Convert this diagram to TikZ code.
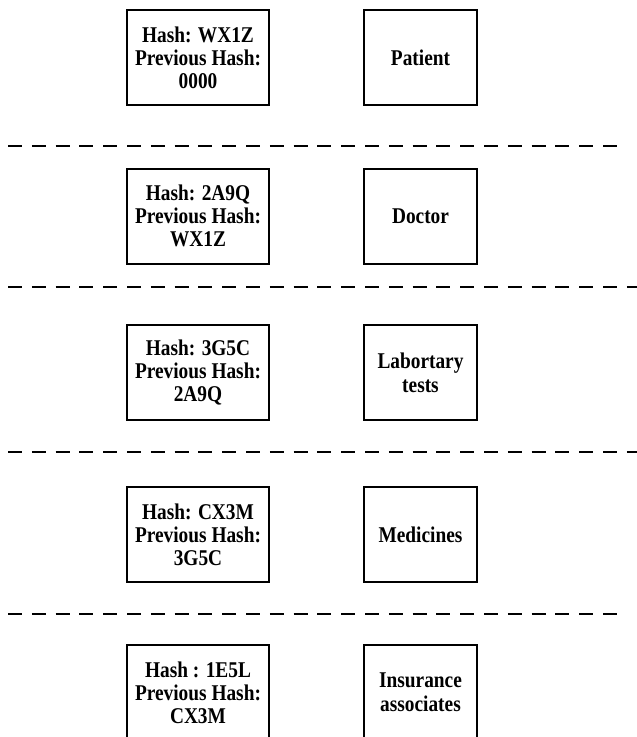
\documentclass[tikz,border=0pt]{standalone}
\usepackage{fontspec}
\setmainfont[FakeStretch=0.86]{Liberation Serif}
\begin{document}
\begin{tikzpicture}[x=1bp,y=-1bp,
  hashbox/.style={draw=black,line width=2bp,minimum width=142bp,minimum height=95bp,inner sep=0pt,align=center,font=\fontsize{22.5bp}{23bp}\selectfont\bfseries},
  rolebox/.style={draw=black,line width=2bp,minimum width=113bp,minimum height=95bp,inner sep=0pt,align=center,font=\fontsize{22.5bp}{24bp}\selectfont\bfseries},
  sep/.style={line width=2.8bp,dash pattern=on 14bp off 9.8bp}]
\useasboundingbox (0,0) rectangle (637,737);
\node[hashbox] (h1) at (198,57.5) {Hash: WX1Z\\Previous Hash:\\0000};
\node[rolebox] (r1) at (420.5,57.5) {Patient};
\node[hashbox] (h2) at (198,216) {Hash: 2A9Q\\Previous Hash:\\WX1Z};
\node[rolebox] (r2) at (420.5,216) {Doctor};
\node[hashbox] (h3) at (198,372.5) {Hash: 3G5C\\Previous Hash:\\2A9Q};
\node[rolebox] (r3) at (420.5,372.5) {Labortary\\tests};
\node[hashbox] (h4) at (198,534.5) {Hash: CX3M\\Previous Hash:\\3G5C};
\node[rolebox] (r4) at (420.5,534.5) {Medicines};
\node[hashbox] (h5) at (198,692.5) {Hash : 1E5L\\Previous Hash:\\CX3M};
\node[rolebox] (r5) at (420.5,692.5) {Insurance\\associates};
\coordinate (d1a) at (8,146); \coordinate (d1b) at (617,146);
\coordinate (d2a) at (8,287); \coordinate (d2b) at (637,287);
\coordinate (d3a) at (8,452); \coordinate (d3b) at (637,452);
\coordinate (d4a) at (8,614); \coordinate (d4b) at (617,614);
\draw[sep] (d1a) -- (d1b);
\draw[sep] (d2a) -- (d2b);
\draw[sep] (d3a) -- (d3b);
\draw[sep] (d4a) -- (d4b);
\end{tikzpicture}
\end{document}
